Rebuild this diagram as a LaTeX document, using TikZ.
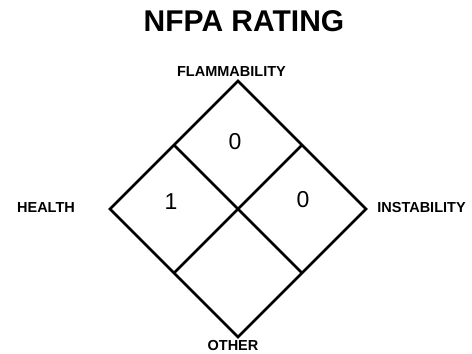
\documentclass[tikz,border=0pt]{standalone}
\usepackage{fontspec}
\setmainfont{Liberation Sans}
\usetikzlibrary{calc}

\begin{document}
\begin{tikzpicture}[
      x=1pt, y=-1pt,
      every node/.style={inner sep=0pt},
      edge/.style={draw, line width=2.6pt, line join=miter},
      num/.style={font=\fontsize{23}{26}\selectfont},
      lbl/.style={font=\fontsize{14.5}{16}\selectfont\bfseries},
      ttl/.style={font=\fontsize{30}{34}\selectfont\bfseries}
  ]
    \useasboundingbox (0,0) rectangle (472,354);

    \node[ttl] (title) at (244,21) {NFPA RATING};

    % corners of the diamond
    \coordinate (t) at (238,81);
    \coordinate (l) at (110,209);
    \coordinate (r) at (366,209);
    \coordinate (b) at (238,337);
    \coordinate (c) at ($(l)!.5!(r)$);

    \draw[edge] (t) -- (r) -- (b) -- (l) -- cycle;
    \draw[edge] ($(t)!.5!(l)$) -- ($(r)!.5!(b)$);
    \draw[edge] ($(t)!.5!(r)$) -- ($(l)!.5!(b)$);

    \node[num] (flam) at (235,142) {0};
    \node[num] (hlth) at (171,202) {1};
    \node[num] (inst) at (303,200) {0};

    \node[lbl] (fl) at (231.5,72) {FLAMMABILITY};
    \node[lbl] (hl) at (46,208) {HEALTH};
    \node[lbl] (il) at (421.5,208) {INSTABILITY};
    \node[lbl] (ol) at (233,346) {OTHER};
  \end{tikzpicture}
\end{document}
